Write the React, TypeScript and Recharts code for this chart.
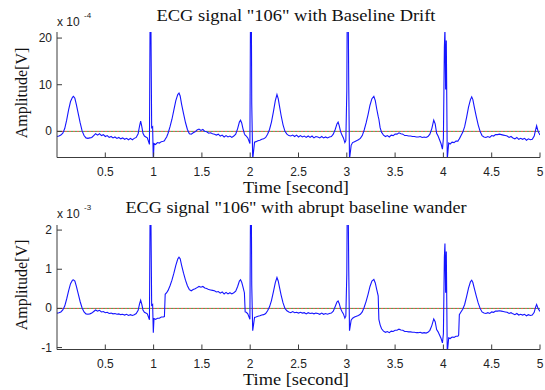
import { LineChart, Line, XAxis, YAxis, ReferenceLine } from "recharts";

// sample times in seconds, shared by both traces
const time = [
  // first T wave, baseline, P wave
  0, 0.02, 0.04, 0.06, 0.08, 0.1, 0.12, 0.14, 0.16, 0.17,
  0.185, 0.2, 0.22, 0.24, 0.26, 0.28, 0.3, 0.32, 0.34, 0.36,
  0.38, 0.4, 0.42, 0.44, 0.46, 0.48, 0.5, 0.52, 0.54, 0.56,
  0.58, 0.6, 0.62, 0.64, 0.66, 0.68, 0.7, 0.72, 0.74, 0.76,
  0.78, 0.8, 0.82, 0.84, 0.855, 0.866, 0.878, 0.89, 0.905, 0.92,
  0.935,
  // beat 1
  0.957, 0.964, 0.968, 0.972, 0.98, 0.99, 0.997, 1.004, 1.02, 1.04,
  1.06, 1.08, 1.1, 1.112, 1.12, 1.135, 1.15, 1.17, 1.19, 1.21,
  1.23, 1.25, 1.263, 1.275, 1.29, 1.31, 1.33, 1.35, 1.37, 1.39,
  1.41, 1.43, 1.45, 1.47, 1.49, 1.51, 1.53, 1.55, 1.57, 1.59,
  1.61, 1.63, 1.65, 1.67, 1.69, 1.71, 1.73, 1.75, 1.77, 1.79,
  1.81, 1.83, 1.85, 1.87, 1.888, 1.9, 1.912, 1.925, 1.94,
  // beat 2
  1.948, 1.96, 1.975, 1.997, 2.004, 2.01, 2.016, 2.026, 2.045, 2.06,
  2.08, 2.1, 2.12, 2.14, 2.16, 2.18, 2.2, 2.22, 2.24, 2.26,
  2.277, 2.29, 2.305, 2.32, 2.34, 2.36, 2.38, 2.4, 2.42, 2.44,
  2.46, 2.48, 2.5, 2.52, 2.54, 2.56, 2.58, 2.6, 2.62, 2.64,
  2.66, 2.68, 2.7, 2.72, 2.74, 2.76, 2.78, 2.8, 2.82, 2.84,
  2.86, 2.88, 2.898, 2.91, 2.922, 2.935, 2.95, 2.965, 2.98, 2.99,
  // beat 3
  3.0, 3.006, 3.012, 3.02, 3.028, 3.045, 3.06, 3.08, 3.1, 3.12,
  3.14, 3.16, 3.18, 3.2, 3.22, 3.24, 3.26, 3.28, 3.295, 3.31,
  3.325, 3.332, 3.345, 3.36, 3.38, 3.4, 3.42, 3.44, 3.46, 3.48,
  3.5, 3.52, 3.54, 3.56, 3.58, 3.6, 3.62, 3.64, 3.66, 3.68,
  3.7, 3.72, 3.74, 3.76, 3.78, 3.8, 3.82, 3.84, 3.86, 3.88,
  3.9, 3.915, 3.93, 3.945, 3.96, 3.975, 3.99,
  // beat 4
  4.0, 4.01, 4.016, 4.023, 4.03, 4.04, 4.055, 4.07, 4.09, 4.11,
  4.13, 4.15, 4.158, 4.165, 4.18, 4.2, 4.22, 4.24, 4.26, 4.28,
  4.293, 4.305, 4.32, 4.34, 4.36, 4.38, 4.4, 4.42, 4.44, 4.46,
  4.48, 4.5, 4.52, 4.54, 4.56, 4.58, 4.6, 4.62, 4.64, 4.66,
  4.68, 4.7, 4.72, 4.74, 4.76, 4.78, 4.8, 4.82, 4.84, 4.86,
  4.88, 4.9, 4.92, 4.94, 4.955, 4.965, 4.98, 5.0,
];

// "106" with baseline drift, units of 1e-4 V
const driftAmp = [
  -1.1, -1.0, -0.8, -0.4, 0.6, 2.4, 4.6, 6.4, 7.3, 7.5,
  7.1, 5.8, 3.8, 1.8, 0.1, -0.9, -1.4, -1.5, -1.4, -1.3,
  -0.9, -0.5, -0.8, -0.5, -0.9, -0.7, -1.1, -0.9, -1.3, -1.1,
  -1.4, -1.2, -1.5, -1.3, -1.6, -1.4, -1.7, -1.5, -1.8, -1.5,
  -1.8, -1.5, -1.3, -0.5, 1.2, 2.2, 1.0, -0.4, -1.0, -1.2,
  -1.4,
  -2.8, 26, 40, 24, 0.8, 1.0, -6.5, -2.6, -2.8, -2.4,
  -2.5, -2.2, -2.1, -2.0, -1.7, -1.2, -0.4, 1.0, 2.6, 4.6,
  6.6, 7.9, 8.2, 7.6, 5.8, 3.8, 1.9, 0.4, -0.5, -0.6,
  -0.3, -0.1, 0.3, 0.5, 0.2, 0.4, 0.0, -0.1, -0.4, -0.3,
  -0.5, -0.6, -0.8, -0.6, -1.0, -0.8, -1.2, -0.9, -1.2, -1.0,
  -1.3, -1.0, -0.6, 0.6, 2.0, 2.4, 1.8, 0.6, -0.5,
  -0.8, -1.0, -1.4, -2.6, 30, 34, 6, -6.0, -2.3, -2.2,
  -2.0, -1.9, -1.7, -1.6, -1.3, -0.6, 0.4, 2.0, 4.2, 6.6,
  7.9, 7.0, 5.2, 3.4, 1.4, 0.0, -0.6, -0.9, -1.0, -0.8,
  -1.1, -0.8, -1.2, -0.9, -1.2, -1.0, -1.3, -1.0, -1.3, -1.0,
  -1.4, -1.1, -1.2, -1.4, -1.1, -1.4, -1.2, -1.4, -1.2, -1.1,
  -0.6, 0.4, 1.6, 2.0, 1.2, 0.0, -0.8, -1.4, -2.4, -2.0,
  8.6, 32, 34, 10, -6.0, -3.0, -2.4, -2.2, -2.0, -1.8,
  -1.5, -0.9, 0.3, 1.8, 3.6, 5.6, 7.0, 7.5, 6.6, 4.8,
  3.2, 2.6, 0.8, -0.2, -0.8, -1.1, -0.9, -1.2, -0.8, -0.9,
  -0.6, -0.6, -0.3, -0.5, -0.6, -0.9, -0.9, -1.0, -1.0, -1.1,
  -1.1, -1.2, -1.2, -1.1, -1.3, -1.2, -1.3, -1.1, -0.6, 0.6,
  2.4, 1.6, -0.4, -1.0, -1.8, -2.6, -3.8,
  -1.5, 18, 22, 9, 19.5, -6.0, -2.5, -2.7, -2.3, -2.4,
  -2.1, -2.1, -1.8, -1.6, -1.0, -0.2, 1.0, 3.0, 5.2, 6.8,
  7.4, 6.8, 5.2, 3.2, 1.4, 0.0, -0.9, -1.2, -1.3, -1.1,
  -1.3, -0.9, -1.0, -0.7, -0.7, -0.6, -0.7, -0.8, -0.9, -1.0,
  -1.3, -1.1, -1.4, -1.6, -1.3, -1.7, -1.5, -1.7, -1.5, -1.9,
  -1.6, -1.8, -1.7, -1.0, 0.4, 1.2, 0.0, -0.8,
];

// "106" with abrupt baseline wander, units of 1e-3 V
const wanderAmp = [
  -0.12, -0.11, -0.09, -0.04, 0.06, 0.24, 0.45, 0.63, 0.72, 0.73,
  0.7, 0.57, 0.37, 0.17, 0.01, -0.09, -0.14, -0.15, -0.14, -0.12,
  -0.08, -0.04, -0.07, -0.05, -0.09, -0.08, -0.11, -0.1, -0.13, -0.12,
  -0.14, -0.13, -0.15, -0.14, -0.16, -0.15, -0.17, -0.15, -0.18, -0.16,
  -0.18, -0.16, -0.13, -0.05, 0.12, 0.21, 0.1, -0.04, -0.1, -0.12,
  -0.14,
  -0.29, 2.6, 4.0, 2.4, 0.08, 0.1, -0.62, -0.26, -0.28, -0.25,
  -0.25, -0.22, -0.22, -0.21, 0.36, 0.4, 0.46, 0.58, 0.72, 0.9,
  1.1, 1.26, 1.31, 1.27, 1.1, 0.9, 0.72, 0.58, 0.48, 0.45,
  0.48, 0.5, 0.53, 0.56, 0.54, 0.56, 0.52, 0.51, 0.48, 0.47,
  0.46, 0.45, 0.42, 0.43, 0.39, 0.42, 0.37, 0.41, 0.37, 0.4,
  0.37, 0.4, 0.44, 0.56, 0.7, 0.73, 0.67, 0.55, 0.4,
  -0.09, -0.1, -0.14, -0.28, 3.0, 3.4, 0.6, -0.57, -0.23, -0.22,
  -0.2, -0.19, -0.17, -0.16, -0.13, -0.06, 0.04, 0.2, 0.42, 0.66,
  0.79, 0.7, 0.52, 0.34, 0.14, 0.0, -0.06, -0.09, -0.11, -0.08,
  -0.11, -0.1, -0.12, -0.1, -0.12, -0.11, -0.14, -0.11, -0.13, -0.12,
  -0.14, -0.12, -0.13, -0.15, -0.12, -0.15, -0.13, -0.15, -0.13, -0.12,
  -0.07, 0.05, 0.16, 0.19, 0.12, 0.0, -0.08, -0.14, -0.25, -0.2,
  0.88, 3.2, 3.4, 1.0, -0.57, -0.3, -0.25, -0.22, -0.2, -0.18,
  -0.15, -0.09, 0.03, 0.18, 0.36, 0.56, 0.7, 0.74, 0.65, 0.48,
  0.32, -0.28, -0.42, -0.52, -0.58, -0.61, -0.59, -0.62, -0.58, -0.59,
  -0.56, -0.56, -0.53, -0.55, -0.56, -0.59, -0.59, -0.6, -0.6, -0.61,
  -0.61, -0.62, -0.62, -0.61, -0.63, -0.62, -0.63, -0.61, -0.56, -0.44,
  -0.27, -0.34, -0.54, -0.6, -0.68, -0.76, -0.88,
  -0.65, 1.3, 1.66, 0.4, 1.45, -1.15, -0.75, -0.77, -0.73, -0.74,
  -0.71, -0.71, -0.68, -0.16, -0.1, -0.02, 0.1, 0.3, 0.52, 0.68,
  0.72, 0.66, 0.51, 0.32, 0.14, 0.0, -0.09, -0.12, -0.13, -0.11,
  -0.13, -0.09, -0.1, -0.07, -0.07, -0.06, -0.07, -0.08, -0.09, -0.1,
  -0.13, -0.11, -0.14, -0.16, -0.13, -0.17, -0.15, -0.17, -0.15, -0.19,
  -0.16, -0.18, -0.17, -0.1, 0.04, 0.1, 0.0, -0.08,
];

const timeTicks = [0.5, 1, 1.5, 2, 2.5, 3, 3.5, 4, 4.5, 5];
const driftTicks = [0, 10, 20];
const wanderTicks = [-1, 0, 1, 2];

const SERIF = '"Liberation Serif", "Times New Roman", serif';
const SANS = '"Liberation Sans", Arial, sans-serif';
const FRAME = "#3c3c3c";
const TICK_LEN = 5;

type TickProps = { x: number; y: number; payload: { value: number } };

// MATLAB style: tick marks point into the plot box
const bottomTick = ({ x, y, payload }: TickProps) => (
  <g>
    <line x1={x} y1={y} x2={x} y2={y - TICK_LEN} stroke={FRAME} />
    <text x={x} y={y + 18} textAnchor="middle" fontFamily={SANS} fontSize={12} fill="#222">
      {payload.value}
    </text>
  </g>
);
const topTick = ({ x, y }: TickProps) => (
  <line x1={x} y1={y} x2={x} y2={y + TICK_LEN} stroke={FRAME} />
);
const leftTick = ({ x, y, payload }: TickProps) => (
  <g>
    <line x1={x} y1={y} x2={x + TICK_LEN} y2={y} stroke={FRAME} />
    <text x={x - 5} y={y + 4} textAnchor="end" fontFamily={SANS} fontSize={12} fill="#222">
      {payload.value}
    </text>
  </g>
);
const rightTick = ({ x, y }: TickProps) => (
  <line x1={x} y1={y} x2={x - TICK_LEN} y2={y} stroke={FRAME} />
);

interface PanelProps {
  amps: number[];
  domain: [number, number];
  yTicks: number[];
  title: string;
  titleWidth: number;
  titleY: number;
  exponent: string;
  expY: number;
  marginTop: number;
  axisHeight: number;
  labelY: number;
  ampY: number;
}

function EcgPanel(p: PanelProps) {
  const data = time.map((t, i) => ({ t, v: p.amps[i] }));
  return (
    <div style={{ position: "relative", width: 545, height: 195 }}>
      <LineChart
        width={545}
        height={195}
        data={data}
        margin={{ top: p.marginTop, right: 5, bottom: 0, left: 0 }}
      >
        <XAxis
          xAxisId="b"
          dataKey="t"
          type="number"
          domain={[0, 5]}
          ticks={timeTicks}
          height={p.axisHeight}
          tickSize={0}
          tickMargin={0}
          tickLine={false}
          axisLine={{ stroke: FRAME }}
          tick={bottomTick}
          allowDataOverflow
        />
        <XAxis
          xAxisId="t"
          orientation="top"
          dataKey="t"
          type="number"
          domain={[0, 5]}
          ticks={timeTicks}
          height={0}
          tickSize={0}
          tickMargin={0}
          tickLine={false}
          axisLine={{ stroke: FRAME }}
          tick={topTick}
          allowDataOverflow
        />
        <YAxis
          yAxisId="l"
          type="number"
          domain={p.domain}
          ticks={p.yTicks}
          width={57}
          tickSize={0}
          tickMargin={0}
          tickLine={false}
          axisLine={{ stroke: FRAME }}
          tick={leftTick}
          allowDataOverflow
        />
        <YAxis
          yAxisId="r"
          orientation="right"
          type="number"
          domain={p.domain}
          ticks={p.yTicks}
          width={0}
          tickSize={0}
          tickMargin={0}
          tickLine={false}
          axisLine={{ stroke: FRAME }}
          tick={rightTick}
          allowDataOverflow
        />
        <ReferenceLine xAxisId="b" yAxisId="l" y={0} stroke="#e04040" strokeDasharray="2 2" />
        <ReferenceLine
          xAxisId="b"
          yAxisId="l"
          y={0}
          stroke="#40a040"
          strokeDasharray="2 2"
          strokeDashoffset={2}
        />
        <Line
          xAxisId="b"
          yAxisId="l"
          dataKey="v"
          type="linear"
          stroke="#1515ff"
          strokeWidth={1.1}
          dot={false}
          isAnimationActive={false}
        />
      </LineChart>
      <svg
        width={545}
        height={195}
        style={{ position: "absolute", left: 0, top: 0, pointerEvents: "none" }}
      >
        <text
          x={296}
          y={p.titleY}
          textAnchor="middle"
          fontFamily={SERIF}
          fontSize={16}
          textLength={p.titleWidth}
          lengthAdjust="spacingAndGlyphs"
          fill="#111"
        >
          {p.title}
        </text>
        <text x={57} y={p.expY} fontFamily={SANS} fontSize={12} fill="#222">
          x 10
        </text>
        <text x={84} y={p.expY - 8} fontFamily={SANS} fontSize={8} fill="#222">
          {p.exponent}
        </text>
        <text
          x={296}
          y={p.labelY}
          textAnchor="middle"
          fontFamily={SERIF}
          fontSize={16}
          textLength={106}
          lengthAdjust="spacingAndGlyphs"
          fill="#111"
        >
          Time [second]
        </text>
        <text
          transform={`translate(27,${p.ampY}) rotate(-90)`}
          textAnchor="middle"
          fontFamily={SERIF}
          fontSize={16}
          fill="#111"
        >
          Amplitude[V]
        </text>
      </svg>
    </div>
  );
}

export default function App() {
  return (
    <div
      style={{
        position: "absolute",
        left: 0,
        top: 0,
        width: 545,
        height: 390,
        background: "#fff",
      }}
    >
      <EcgPanel
        amps={driftAmp}
        domain={[-5.6, 21.3]}
        yTicks={driftTicks}
        title={'ECG signal "106" with Baseline Drift'}
        titleWidth={279}
        titleY={21}
        exponent="-4"
        expY={26}
        marginTop={32}
        axisHeight={37.5}
        labelY={192.5}
        ampY={93}
      />
      <EcgPanel
        amps={wanderAmp}
        domain={[-1.05, 2.13]}
        yTicks={wanderTicks}
        title={'ECG signal "106" with abrupt baseline wander'}
        titleWidth={341}
        titleY={17.5}
        exponent="-3"
        expY={23}
        marginTop={30}
        axisHeight={40.5}
        labelY={190}
        ampY={90}
      />
    </div>
  );
}
